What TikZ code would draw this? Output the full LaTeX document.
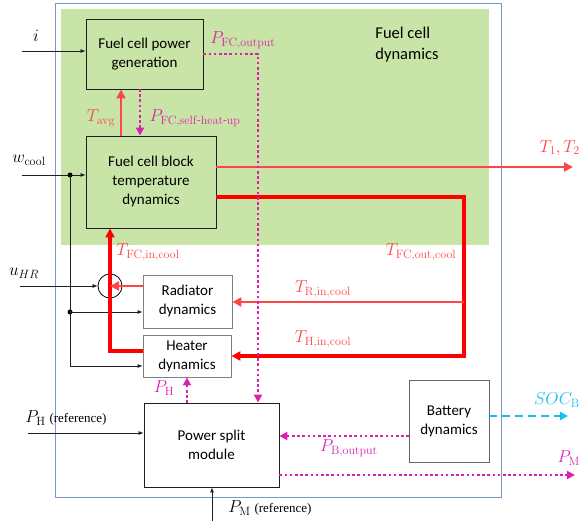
\documentclass[tikz,border=0pt]{standalone}
\usepackage{amsmath}
\usepackage[no-math]{fontspec}
\setmainfont{Carlito}
\newfontfamily\reffont{Liberation Serif}
\usetikzlibrary{arrows.meta,positioning,calc}
\definecolor{leafbg}{RGB}{200,228,166}
\definecolor{frameblue}{RGB}{120,150,200}
\definecolor{hotred}{RGB}{255,0,0}
\definecolor{warmred}{RGB}{255,70,70}
\definecolor{pink}{RGB}{222,30,175}
\definecolor{sky}{RGB}{20,190,240}
\definecolor{ink}{RGB}{30,30,30}
\tikzset{
  block/.style={draw=#1,fill=none,line width=0.9pt,align=center,
    font=\fontsize{15}{19}\selectfont,inner sep=0pt},
  block/.default=ink,
  sig/.style={-{Latex[length=5pt,width=4pt]},draw=ink,line width=0.7pt},
  hot/.style={draw=hotred,line width=3.2pt},
  warm/.style={draw=warmred,line width=2.4pt},
  redtip/.style={-{Triangle[length=9pt,width=9pt]}},
  pw/.style={draw=pink,line width=2.6pt,dash pattern=on 2.6pt off 2.6pt,
    -{Triangle[length=8pt,width=8pt]}},
  socline/.style={draw=sky,line width=2.6pt,dash pattern=on 8pt off 5pt,
    -{Triangle[length=8pt,width=8pt]}},
  lbl/.style={font=\LARGE,text=#1,inner sep=0pt},
  lbl/.default=black,
  jn/.style={circle,fill=black,inner sep=0pt,minimum size=5pt},
}
\newcommand\refnote{{\reffont\fontsize{13}{15}\selectfont(reference)}}
\begin{document}
\begin{tikzpicture}[x=1pt,y=-1pt]
  \useasboundingbox (0,0) rectangle (581,521);
  % frames
  \draw[frameblue,line width=0.8pt] (55,3) rectangle (501,497);
  \fill[leafbg] (61,9) rectangle (489,245);
  \node[font=\fontsize{16.5}{21}\selectfont,align=left] (title) at (407,45) {Fuel cell\\dynamics};

  % blocks
  \node[block,minimum width=117pt,minimum height=70pt] (gen) at (144.5,54) {Fuel cell power\\generation};
  \node[block,minimum width=130pt,minimum height=92pt] (temp) at (151,182) {Fuel cell block\\temperature\\dynamics};
  \node[block=gray,minimum width=89pt,minimum height=53pt] (rad) at (187.5,301.5) {Radiator\\dynamics};
  \node[block=gray,minimum width=88pt,minimum height=42pt] (heat) at (187,356) {Heater\\dynamics};
  \node[block,minimum width=135pt,minimum height=84pt] (psm) at (211.5,445) {Power split\\module};
  \node[block=gray!80!black,minimum width=80pt,minimum height=82pt] (bat) at (449,421) {Battery\\dynamics};
  \node[circle,draw=black,line width=0.8pt,minimum size=24pt,inner sep=0pt] (sum) at (110,286) {};

  % black signals
  \coordinate (iin) at (22,51);
  \coordinate (wcin) at (22,175);
  \coordinate (wr) at (70,312);
  \coordinate (wh) at (70,366);
  \coordinate (uin) at (20,286);
  \coordinate (phin) at (28,433);
  \coordinate (pmin) at (212,521);
  \draw[sig] (iin) -- (iin -| gen.west);
  \draw[sig] (wcin) -- (wcin -| temp.west);
  \node[jn] (wdot) at (70,175) {};
  \node[jn] (wrdot) at (wr) {};
  \draw[draw=ink,line width=0.7pt] (wdot.center) -- (wh);
  \draw[sig] (wr) -- (wr -| rad.west);
  \draw[sig] (wh) -- (wh -| heat.west);
  \draw[sig] (uin) -- (sum.west);
  \draw[sig] (phin) -- (phin -| psm.west);
  \draw[sig] (pmin) -- (pmin |- psm.south);

  % coolant loop
  \coordinate (hout) at (143,351);
  \coordinate (fo) at (464,197);
  \coordinate (ri) at (464,302);
  \coordinate (ta) at (121,136);
  \coordinate (tout) at (573,167);
  \draw[hot,redtip] (hout) -| (sum |- temp.south);
  \draw[warm,redtip] (rad.west |- sum) -- (sum.center);
  \draw[warm,redtip] (ta) -- (ta |- gen.south);
  \draw[warm,redtip] (temp.east |- tout) -- (tout);
  \draw[hot,redtip] (temp.east |- fo) -| (fo |- heat) -- (heat.east);
  \draw[warm,redtip] (ri) -- (ri -| rad.east);

  % power flows
  \coordinate (ps) at (140,89);
  \coordinate (pf) at (258,54);
  \coordinate (ph) at (187,403);
  \coordinate (pb) at (409,436);
  \coordinate (pmo) at (575,475);
  \coordinate (soc) at (568,416);
  \draw[pw] (ps) -- (ps |- temp.north);
  \draw[pw] (gen.east |- pf) -- (pf) -- (pf |- psm.north);
  \draw[pw] (ph) -- (ph |- heat.south);
  \draw[pw] (pb) -- (pb -| psm.east);
  \draw[pw] (psm.east |- pmo) -- (pmo);
  \draw[socline] (bat.east |- soc) -- (soc);

  % labels
  \node[lbl] (li) at (36,36) {$i$};
  \node[lbl] (lw) at (29,160) {$w_{\mathrm{cool}}$};
  \node[lbl] (lu) at (24,273) {$u_{HR}$};
  \node[lbl=warmred] (lta) at (101,118) {$T_{\mathrm{avg}}$};
  \node[lbl=pink] (lps) at (195,118) {$P_{\mathrm{FC,self}\text{-}\mathrm{heat}\text{-}\mathrm{up}}$};
  \node[lbl=pink] (lpf) at (243,40) {$P_{\mathrm{FC,output}}$};
  \node[lbl=warmred,anchor=east] (lt12) at (580,148) {$T_1,T_2$};
  \node[lbl=warmred] (ltin) at (148,252) {$T_{\mathrm{FC,in,cool}}$};
  \node[lbl=warmred] (ltout) at (421,252) {$T_{\mathrm{FC,out,cool}}$};
  \node[lbl=warmred] (ltr) at (323,289) {$T_{\mathrm{R,in,cool}}$};
  \node[lbl=warmred] (lth) at (323,339) {$T_{\mathrm{H,in,cool}}$};
  \node[lbl=pink] (lph) at (164,388) {$P_{\mathrm{H}}$};
  \node[lbl] (lphr) at (66,418) {$P_{\mathrm{H}}$ \refnote};
  \node[lbl] (lpmr) at (270,508) {$P_{\mathrm{M}}$ \refnote};
  \node[lbl=pink] (lpb) at (349,448) {$P_{\mathrm{B,output}}$};
  \node[lbl=sky,anchor=east] (lsoc) at (580,400) {$SOC_{\mathrm{B}}$};
  \node[lbl=pink,anchor=east] (lpm) at (580,458) {$P_{\mathrm{M}}$};
\end{tikzpicture}
\end{document}
